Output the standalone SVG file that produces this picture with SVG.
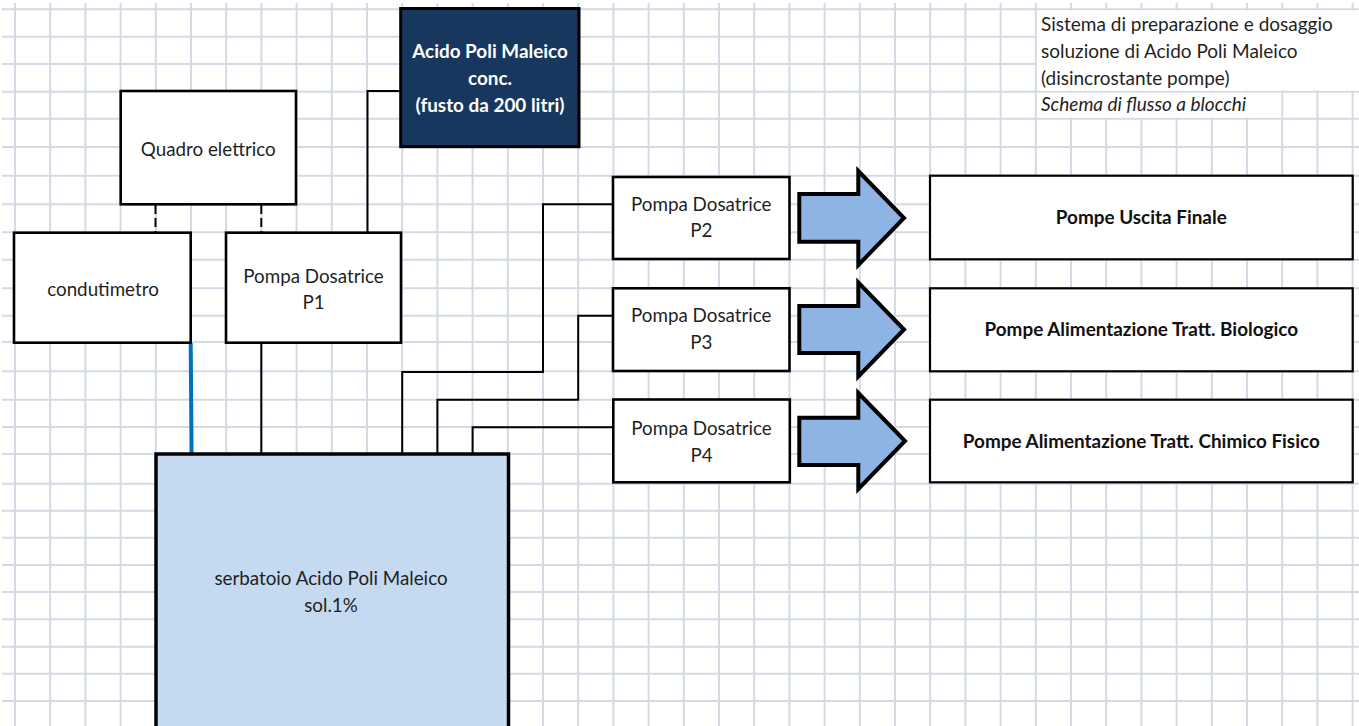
<svg xmlns="http://www.w3.org/2000/svg" width="1359" height="726" viewBox="0 0 1359 726">
<style>
.grid{stroke:#D3DAE6;stroke-width:2;fill:none}
.box{fill:#fff;stroke:#000;stroke-width:2.6}
.tbox{fill:#fff;stroke:#000;stroke-width:2.2}
.t{font-family:Lato,"Liberation Sans",sans-serif;font-size:18.8px;fill:#1f1f1f;text-anchor:middle}
.tb{font-family:Lato,"Liberation Sans",sans-serif;font-size:18.9px;font-weight:bold;fill:#111;text-anchor:middle}
.tw{fill:#fff}
.tl{font-family:Lato,"Liberation Sans",sans-serif;font-size:19px;fill:#1f1f1f}
.conn{stroke:#000;stroke-width:2;fill:none}
.arrow{fill:#8DB4E2;stroke:#000;stroke-width:4;stroke-linejoin:miter}
</style>
<rect width="1359" height="726" fill="#fff"/>
<g id="grid">
<path class="grid" d="M15 3V726M50.2 3V726M85.4 3V726M120.6 3V726M155.8 3V726M191 3V726M226.2 3V726M261.4 3V726M296.6 3V726M331.8 3V726M367 3V726M402.2 3V726M437.4 3V726M472.6 3V726M507.8 3V726M543 3V726M578.2 3V726M613.4 3V726M648.6 3V726M683.8 3V726M719 3V726M754.2 3V726M789.4 3V726M824.6 3V726M859.8 3V726M895 3V726M930.2 3V726M965.4 3V726M1000.6 3V726M1035.8 3V726M1071 3V726M1106.2 3V726M1141.4 3V726M1176.6 3V726M1211.8 3V726M1247 3V726M1282.2 3V726M1317.4 3V726M1352.6 3V726"/>
<path class="grid" d="M2 9.3H1359M2 36.7H1359M2 64H1359M2 91.7H1359M2 118.7H1359M2 147H1359M2 175.7H1359M2 204.3H1359M2 232.3H1359M2 259.7H1359M2 288.3H1359M2 315.7H1359M2 342H1359M2 371.3H1359M2 399.7H1359M2 427H1359M2 454H1359M2 483.7H1359M2 510.7H1359M2 537.7H1359M2 565H1359M2 592H1359M2 619.3H1359M2 646.7H1359M2 673.7H1359M2 701H1359"/>
<rect x="1037" y="10.4" width="322" height="80.2" fill="#fff"/>
<rect x="1037" y="92.8" width="244.2" height="24.8" fill="#fff"/>
</g>
<g id="title">
<text class="tl" x="1041" y="31">Sistema di preparazione e dosaggio</text>
<text class="tl" x="1041" y="58">soluzione di Acido Poli Maleico</text>
<text class="tl" x="1041" y="85">(disincrostante pompe)</text>
<text class="tl" x="1041" y="111" font-style="italic">Schema di flusso a blocchi</text>
</g>
<g id="connectors">
<path class="conn" d="M367.5 232.7V91H401"/>
<path class="conn" d="M155.5 205V232.7M261.3 205V232.7" stroke-width="2.6" stroke-dasharray="9 4"/>
<path class="conn" d="M261.3 342.7V454"/>
<path class="conn" d="M402.2 454V372H543V204.3H613"/>
<path class="conn" d="M437.4 454V399.7H578.2V315.7H613"/>
<path class="conn" d="M472.6 454V427.3H613"/>
<path d="M190.7 343L192.3 547" stroke="#0070C0" stroke-width="4" fill="none"/>
</g>
<g id="quadro">
<rect class="box" x="120.7" y="91" width="175.3" height="113.3"/>
<text class="t" x="208.3" y="156">Quadro elettrico</text>
</g>
<g id="acido">
<rect x="400.7" y="8.5" width="178.3" height="138.2" fill="#17375E" stroke="#000" stroke-width="3"/>
<text class="tb tw" x="490" y="58.3" style="fill:#fff">Acido Poli Maleico</text>
<text class="tb tw" x="490" y="85" style="fill:#fff">conc.</text>
<text class="tb tw" x="490" y="111.7" style="fill:#fff">(fusto da 200 litri)</text>
</g>
<g id="condutimetro">
<rect class="box" x="14" y="232.7" width="176.7" height="110"/>
<text class="t" x="103" y="296">condutimetro</text>
</g>
<g id="p1">
<rect class="box" x="226" y="232.7" width="175" height="110"/>
<text class="t" x="313.5" y="282.7">Pompa Dosatrice</text>
<text class="t" x="313.5" y="309">P1</text>
</g>
<g id="tank">
<rect x="156" y="454" width="352.5" height="276" fill="#C5D9F1" stroke="#000" stroke-width="3.5"/>
<text class="t" x="331" y="585">serbatoio Acido Poli Maleico</text>
<text class="t" x="331" y="611.7">sol.1%</text>
</g>
<g id="p2">
<rect class="box" x="613" y="177" width="176.5" height="82"/>
<text class="t" x="701.3" y="210.7">Pompa Dosatrice</text>
<text class="t" x="701.3" y="237.3">P2</text>
</g>
<g id="p3">
<rect class="box" x="613" y="288.3" width="176.5" height="82.7"/>
<text class="t" x="701.3" y="322">Pompa Dosatrice</text>
<text class="t" x="701.3" y="348.5">P3</text>
</g>
<g id="p4">
<rect class="box" x="613.3" y="399.5" width="176.5" height="82.8"/>
<text class="t" x="701.5" y="435">Pompa Dosatrice</text>
<text class="t" x="701.5" y="461.7">P4</text>
</g>
<g id="arrows">
<polygon class="arrow" points="799.3,194 858.3,194 858.3,171 904,218 858.3,265 858.3,241.7 799.3,241.7"/>
<polygon class="arrow" points="799.3,306 858.3,306 858.3,282.5 904,329.5 858.3,376.5 858.3,353 799.3,353"/>
<polygon class="arrow" points="799.3,417.7 858.3,417.7 858.3,393 905,441 858.3,489 858.3,465 799.3,465"/>
</g>
<g id="uscita">
<rect class="tbox" x="930" y="175.7" width="422.7" height="83.6"/>
<text class="tb" x="1141.3" y="224.3">Pompe Uscita Finale</text>
</g>
<g id="biologico">
<rect class="tbox" x="930" y="288.3" width="422.7" height="83"/>
<text class="tb" x="1141.3" y="336">Pompe Alimentazione Tratt. Biologico</text>
</g>
<g id="chimico">
<rect class="tbox" x="930" y="399.7" width="422.7" height="82.6"/>
<text class="tb" x="1141.3" y="448">Pompe Alimentazione Tratt. Chimico Fisico</text>
</g>
</svg>
